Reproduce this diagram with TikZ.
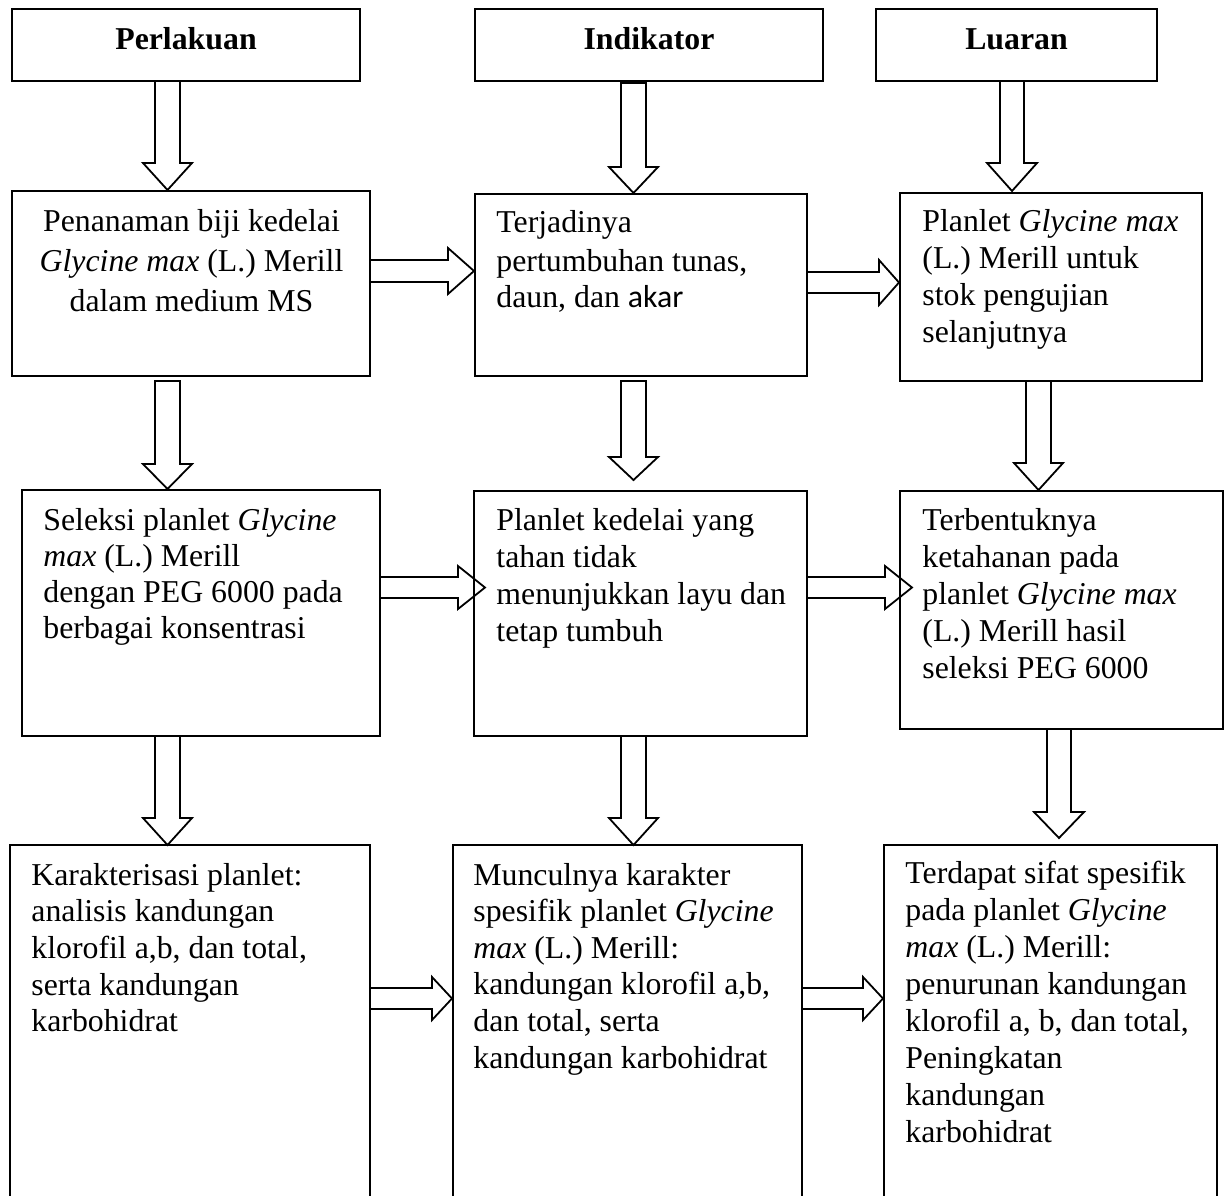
\documentclass[tikz,border=0pt]{standalone}
\usepackage{fontspec}
\setmainfont{Liberation Serif}
\newfontfamily\calibrilike{Carlito}
\usetikzlibrary{fit,calc}
\begin{document}
\begin{tikzpicture}[x=0.5pt,y=-0.5pt,
  box/.style={draw=black, line width=1pt, rectangle, inner sep=0pt},
  blk/.style={draw=black, line width=0.9pt, line join=miter},
  txt/.style={inner sep=0pt, anchor=base west, font=\fontsize{15.9}{18.5}\selectfont},
  hd/.style={inner sep=0pt, anchor=base, font=\fontsize{15.9}{18.5}\selectfont\bfseries}]
\useasboundingbox (0,0) rectangle (1229,1195);
\clip (0,0) rectangle (1229,1195);
% headers
\node[box, fit={(12,9)(360,81)}] (h1) {};
\node[box, fit={(475,9)(823,81)}] (h2) {};
\node[box, fit={(876,9)(1157,81)}] (h3) {};
\node[hd] (th1) at (186,49) {Perlakuan};
\node[hd] (th2) at (649,49) {Indikator};
\node[hd] (th3) at (1016.5,49) {Luaran};
% row 1
\node[box, fit={(12,191)(370,376)}] (b1) {};
\node[box, fit={(475,194)(807,376)}] (b2) {};
\node[box, fit={(900,193)(1202,381)}] (b3) {};
% row 2
\node[box, fit={(22,490)(380,736)}] (b4) {};
\node[box, fit={(474,491)(807,736)}] (b5) {};
\node[box, fit={(900,491)(1223,729)}] (b6) {};
% row 3
\node[box, fit={(10,845)(370,1205)}] (b7) {};
\node[box, fit={(453,845)(802,1205)}] (b8) {};
\node[box, fit={(884,845)(1217,1205)}] (b9) {};
% texts
\node[txt, anchor=base] (t1) at (191.5,231.7) {\parbox[t]{190pt}{\centering\fontsize{15.9}{20}\selectfont
  Penanaman biji kedelai\\ \textit{Glycine max} (L.) Merill\\ dalam medium MS}};
\node[txt] (t2) at (496,232.7) {\parbox[t]{170pt}{\fontsize{15.9}{19.5}\selectfont
  Terjadinya\\ pertumbuhan tunas,\\[-1.75pt] daun, dan {\calibrilike akar}}};
\node[txt] (t3) at (922,231.7) {\parbox[t]{150pt}{%
  Planlet \textit{Glycine max}\\ (L.) Merill untuk\\ stok pengujian\\ selanjutnya}};
\node[txt] (t4) at (43,530) {\parbox[t]{175pt}{\fontsize{15.9}{18.1}\selectfont
  Seleksi planlet \textit{Glycine}\\ \textit{max} (L.) Merill\\ dengan PEG 6000 pada\\ berbagai konsentrasi}};
\node[txt] (t5) at (496,530.7) {\parbox[t]{165pt}{\fontsize{15.9}{18.4}\selectfont
  Planlet kedelai yang\\ tahan tidak\\ menunjukkan layu dan\\ tetap tumbuh}};
\node[txt] (t6) at (922,530) {\parbox[t]{155pt}{%
  Terbentuknya\\ ketahanan pada\\ planlet \textit{Glycine max}\\ (L.) Merill hasil\\ seleksi PEG 6000}};
\node[txt] (t7) at (31,885) {\parbox[t]{175pt}{\fontsize{15.9}{18.35}\selectfont
  Karakterisasi planlet:\\ analisis kandungan\\ klorofil a,b, dan total,\\ serta kandungan\\ karbohidrat}};
\node[txt] (t8) at (473,885) {\parbox[t]{165pt}{\fontsize{15.9}{18.3}\selectfont
  Munculnya karakter\\ spesifik planlet \textit{Glycine}\\ \textit{max} (L.) Merill:\\ kandungan klorofil a,b,\\ dan total, serta\\ kandungan karbohidrat}};
\node[txt] (t9) at (905,883) {\parbox[t]{160pt}{%
  Terdapat sifat spesifik\\ pada planlet \textit{Glycine}\\ \textit{max} (L.) Merill:\\ penurunan kandungan\\ klorofil a, b, dan total,\\ Peningkatan\\ kandungan\\ karbohidrat}};
% vertical block arrows
\draw[blk] (h1.south -| 155,0) -- (155,163) -- (143,163) -- (167.5,190) -- (192,163) -- (180,163) -- (h1.south -| 180,0);
\draw[blk] (621,83) -- (621,167) -- (609,167) -- (633.5,193) -- (658,167) -- (646,167) -- (646,83) -- cycle;
\draw[blk] (h3.south -| 1000,0) -- (1000,163) -- (987,163) -- (1012,191) -- (1037,163) -- (1024,163) -- (h3.south -| 1024,0);
\draw[blk] (155,381) -- (155,464) -- (143,464) -- (167.5,489) -- (192,464) -- (180,464) -- (180,381) -- cycle;
\draw[blk] (621,381) -- (621,457) -- (609,457) -- (633.5,480) -- (658,457) -- (646,457) -- (646,381) -- cycle;
\draw[blk] (b3.south -| 1026,0) -- (1026,463) -- (1014,463) -- (1038.5,490) -- (1063,463) -- (1051,463) -- (b3.south -| 1051,0);
\draw[blk] (b4.south -| 155,0) -- (155,818) -- (143,818) -- (167.5,845) -- (192,818) -- (180,818) -- (b4.south -| 180,0);
\draw[blk] (b5.south -| 621,0) -- (621,818) -- (609,818) -- (633.5,845) -- (658,818) -- (646,818) -- (b5.south -| 646,0);
\draw[blk] (b6.south -| 1047,0) -- (1047,812) -- (1034,812) -- (1059,838) -- (1084,812) -- (1071,812) -- (b6.south -| 1071,0);
% horizontal block arrows
\draw[blk] (b1.east |- 0,260) -- (448,260) -- (448,248) -- (b2.west |- 0,271) -- (448,294) -- (448,282) -- (b1.east |- 0,282);
\draw[blk] (b2.east |- 0,272) -- (879,272) -- (879,260) -- (b3.west |- 0,282.5) -- (879,305) -- (879,293) -- (b2.east |- 0,293);
\draw[blk] (b4.east |- 0,577) -- (458,577) -- (458,566) -- (485,587.5) -- (458,609) -- (458,598) -- (b4.east |- 0,598);
\draw[blk] (b5.east |- 0,577) -- (885,577) -- (885,566) -- (912,587.5) -- (885,609) -- (885,598) -- (b5.east |- 0,598);
\draw[blk] (b7.east |- 0,988) -- (432,988) -- (432,977) -- (b8.west |- 0,998.5) -- (432,1020) -- (432,1009) -- (b7.east |- 0,1009);
\draw[blk] (b8.east |- 0,988) -- (863,988) -- (863,977) -- (b9.west |- 0,998.5) -- (863,1020) -- (863,1009) -- (b8.east |- 0,1009);
\end{tikzpicture}
\end{document}
